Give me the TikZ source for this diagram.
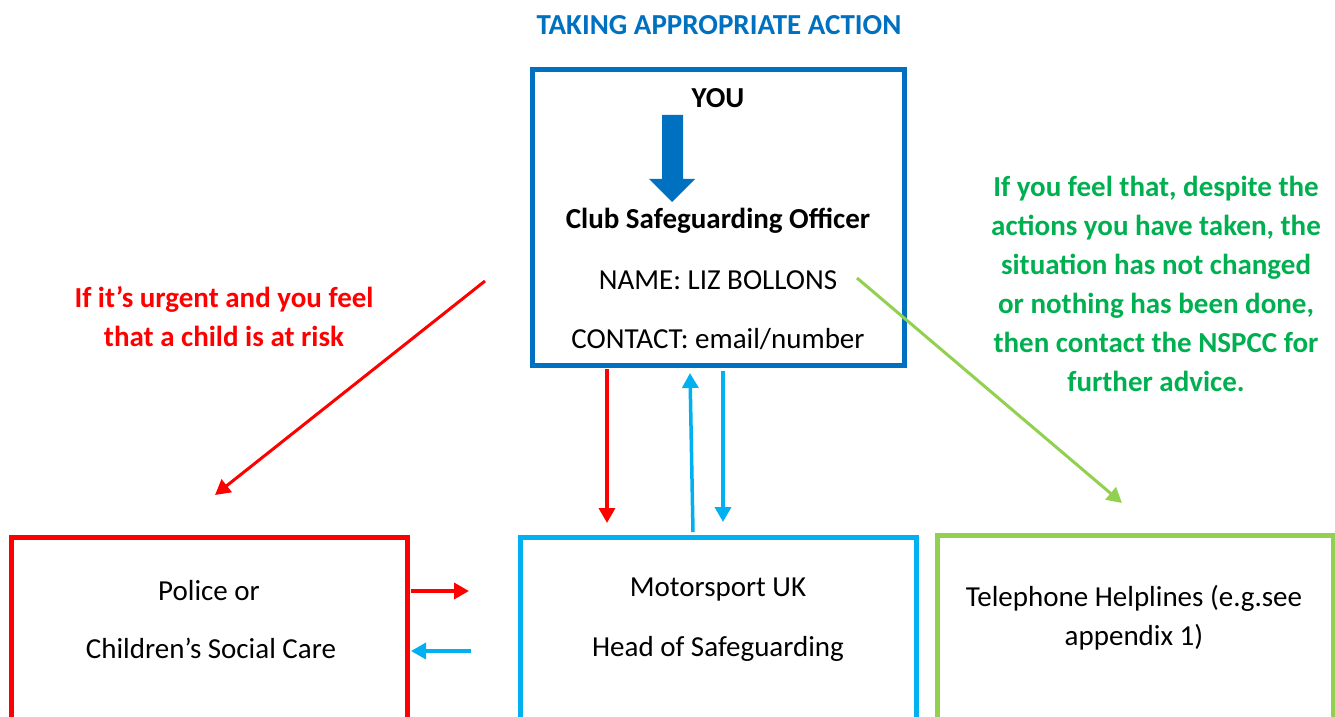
\documentclass[tikz,border=0pt]{standalone}
\usepackage{fontspec}
\setmainfont{Carlito}
\usetikzlibrary{arrows.meta}
\definecolor{csoblue}{HTML}{0070C0}
\definecolor{msblue}{HTML}{00B0F0}
\definecolor{alertred}{HTML}{FF0000}
\definecolor{lime}{HTML}{92D050}
\definecolor{advgreen}{HTML}{00B050}

\begin{document}
\begin{tikzpicture}[x=0.5pt,y=-0.5pt,
    txt/.style={font=\fontsize{14.5}{19.5}\selectfont, inner sep=0pt, anchor=base},
    hd/.style={txt, font=\fontsize{14.5}{19.5}\selectfont\bfseries},
    para/.style={hd, align=center, anchor=center},
    frame/.style={line width=2.5pt},
    link/.style={line width=1.75pt, -{Triangle[width=8pt,length=7.5pt]}}]
    \useasboundingbox (0,0) rectangle (1335,717);

    %%%%% header %%%%%
    \node[hd, text=csoblue] (title) at (719,35) {TAKING APPROPRIATE ACTION};

    %%%%% club officer box %%%%%
    \draw[frame, csoblue] (532,69.5) rectangle (904.5,365);
    \node[hd] (you) at (718,108) {YOU};
    \fill[csoblue] (662,115) -- (683,115) -- (683,179) -- (695,179) -- (672,202)
        -- (649,179) -- (662,179) -- cycle;
    \node[hd] (cso) at (718,228) {Club Safeguarding Officer};
    \node[txt] (csoname) at (718,290) {NAME: LIZ BOLLONS};
    \node[txt] (csocontact) at (718,348) {CONTACT: email/number};

    %%%%% bottom boxes (run off the page) %%%%%
    \draw[frame, alertred] (11,537) rectangle (407,800);
    \node[txt] (police) at (209,600) {Police or};
    \node[txt] (social) at (211,658) {Children’s Social Care};

    \draw[frame, msblue] (520,537) rectangle (916,800);
    \node[txt] (msuk) at (718,596) {Motorsport UK};
    \node[txt] (head) at (718,656) {Head of Safeguarding};

    \draw[frame, lime] (937,535) rectangle (1333,800);
    \node[txt, align=center, anchor=center] (phone) at (1134,618)
        {Telephone Helplines (e.g.see\\appendix 1)};

    %%%%% side notes %%%%%
    \node[para, text=alertred] (urgent) at (224,317)
        {If it’s urgent and you feel\\that a child is at risk};
    \node[para, text=advgreen] (nspcc) at (1156,284)
        {If you feel that, despite the\\actions you have taken, the\\situation has not changed\\or nothing has been done,\\then contact the NSPCC for\\further advice.};

    %%%%% arrow ends %%%%%
    \coordinate (urgfrom) at (485,281);
    \coordinate (urgto) at (215,495);
    \coordinate (advfrom) at (857,278);
    \coordinate (advto) at (1122,503);
    \coordinate (downfrom) at (607,369);
    \coordinate (downto) at (607,523);
    \coordinate (upfrom) at (693,532);
    \coordinate (upto) at (690,373);
    \coordinate (backfrom) at (723,371);
    \coordinate (backto) at (723,522);
    \coordinate (rightfrom) at (411,591);
    \coordinate (rightto) at (469,591);
    \coordinate (leftfrom) at (471,651);
    \coordinate (leftto) at (411,651);

    \draw[link, alertred, line width=1.5pt] (urgfrom) -- (urgto);
    \draw[link, lime, line width=1.5pt] (advfrom) -- (advto);
    \draw[link, alertred] (downfrom) -- (downto);
    \draw[link, msblue] (upfrom) -- (upto);
    \draw[link, msblue] (backfrom) -- (backto);
    \draw[link, alertred] (rightfrom) -- (rightto);
    \draw[link, msblue] (leftfrom) -- (leftto);
\end{tikzpicture}
\end{document}
